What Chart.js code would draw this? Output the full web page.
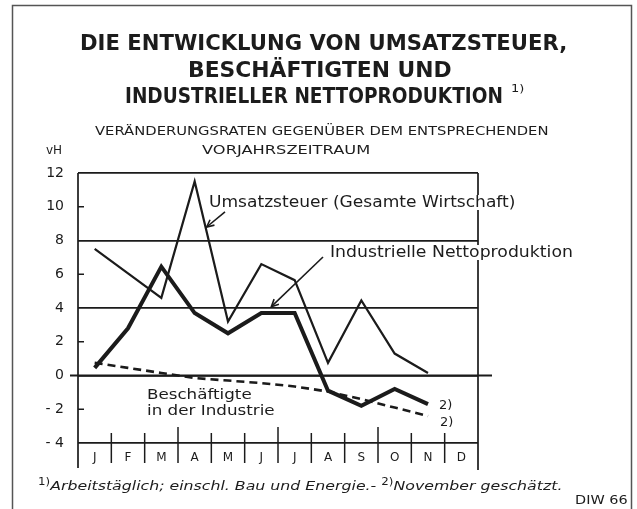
<!DOCTYPE html>
<html><head><meta charset="utf-8">
<script src="https://cdn.jsdelivr.net/npm/chart.js@4"></script>
<style>
html,body{margin:0;padding:0;background:#fff;}
#wrap{position:relative;width:637px;height:509px;overflow:hidden;background:#fff;}
canvas{position:absolute;left:0;top:0;}
.t{position:absolute;white-space:nowrap;line-height:1;color:#1c1c1c;font-family:"DejaVu Sans",sans-serif;transform-origin:0 50%;}
.t sup{font-style:normal;font-size:0.75em;vertical-align:0.55em;line-height:0;}
</style></head><body>
<div id="wrap"><canvas id="c" width="637" height="509"></canvas></div>
<script>
// ---- data ----
const months = ['J','F','M','A','M','J','J','A','S','O','N','D'];
const umsatzsteuer = [7.5, 6.05, 4.6, 11.5, 3.2, 6.6, 5.65, 0.75, 4.45, 1.3, 0.15, null];
const nettoproduktion = [0.45, 2.8, 6.45, 3.7, 2.5, 3.7, 3.7, -0.9, -1.8, -0.8, -1.7, null];
const beschaeftigte = [0.75, 0.45, 0.15, -0.15, -0.3, -0.45, -0.65, -0.95, -1.4, -1.9, -2.4, null];
const yTicks = [12, 10, 8, 6, 4, 2, 0, -2, -4];
const gridValues = [12, 8, 4, 0, -4];

const INK = '#1b1b1b';

const frame = {
  id: 'frame',
  afterDraw(ch) {
    const ctx = ch.ctx, a = ch.chartArea, x = ch.scales.x, y = ch.scales.y;
    ctx.save();
    ctx.lineCap = 'butt';
    // outer frame
    ctx.strokeStyle = '#555'; ctx.lineWidth = 1.5;
    ctx.beginPath(); ctx.moveTo(12.5, 509); ctx.lineTo(12.5, 5.5); ctx.lineTo(631.5, 5.5); ctx.lineTo(631.5, 509); ctx.stroke();
    ctx.strokeStyle = INK; ctx.lineWidth = 1.7;
    // vertical axes
    ctx.beginPath();
    ctx.moveTo(a.left, a.top); ctx.lineTo(a.left, a.bottom + 25);
    ctx.moveTo(a.right, a.top); ctx.lineTo(a.right, a.bottom + 27);
    ctx.stroke();
    // zero line extension
    const y0 = y.getPixelForValue(0);
    ctx.lineWidth = 2;
    ctx.beginPath(); ctx.moveTo(a.left - 8, y0); ctx.lineTo(a.right + 14, y0); ctx.stroke();
    // inner ticks
    ctx.lineWidth = 1.5;
    [10, 6, 2, -2].forEach(v => { const py = y.getPixelForValue(v); ctx.beginPath(); ctx.moveTo(a.left, py); ctx.lineTo(a.left + 6, py); ctx.stroke(); });
    // month separators
    for (let i = 1; i < 12; i++) {
      const px = x.getPixelForValue(i - 0.5);
      const tall = i % 3 === 0;
      ctx.beginPath(); ctx.moveTo(px, a.bottom - (tall ? 16 : 10)); ctx.lineTo(px, a.bottom + 20); ctx.stroke();
    }
    // arrows (value coordinates)
    const arrows = [{from: [3.91, 9.69], to: [3.36, 8.8]}, {from: [6.85, 7.02], to: [5.30, 4.08]}];
    ctx.lineWidth = 1.6;
    arrows.forEach(ar => {
      const x1 = x.getPixelForValue(ar.from[0]), y1 = y.getPixelForValue(ar.from[1]);
      const x2 = x.getPixelForValue(ar.to[0]), y2 = y.getPixelForValue(ar.to[1]);
      ctx.beginPath(); ctx.moveTo(x1, y1); ctx.lineTo(x2, y2); ctx.stroke();
      const ang = Math.atan2(y1 - y2, x1 - x2);
      ctx.beginPath();
      ctx.moveTo(x2 + 8 * Math.cos(ang + 0.45), y2 + 8 * Math.sin(ang + 0.45));
      ctx.lineTo(x2, y2);
      ctx.lineTo(x2 + 8 * Math.cos(ang - 0.45), y2 + 8 * Math.sin(ang - 0.45));
      ctx.stroke();
    });
    ctx.restore();
  }
};

new Chart(document.getElementById('c'), {
  type: 'line',
  data: {
    labels: months,
    datasets: [
      {label: 'Beschäftigte in der Industrie', data: beschaeftigte, borderColor: INK, borderWidth: 2.6, borderDash: [8, 5], pointRadius: 0, tension: 0, fill: false, order: 3},
      {label: 'Umsatzsteuer (Gesamte Wirtschaft)', data: umsatzsteuer, borderColor: INK, borderWidth: 2.2, pointRadius: 0, tension: 0, fill: false, order: 2},
      {label: 'Industrielle Nettoproduktion', data: nettoproduktion, borderColor: INK, borderWidth: 4, pointRadius: 0, tension: 0, fill: false, order: 1}
    ]
  },
  options: {
    responsive: false, animation: false, devicePixelRatio: 1,
    layout: {padding: {left: 0, top: 173, right: 159, bottom: 0}},
    plugins: {legend: {display: false}, tooltip: {enabled: false}},
    scales: {
      x: {
        offset: true,
        grid: {display: false, drawTicks: false}, border: {display: false},
        ticks: {color: INK, font: {family: 'DejaVu Sans', size: 12}, padding: 8, maxRotation: 0, autoSkip: false},
        afterFit(s) { s.height = 66; }
      },
      y: {
        min: -4, max: 12,
        afterBuildTicks(s) { s.ticks = yTicks.map(v => ({value: v})); },
        grid: {color: c => gridValues.includes(c.tick.value) ? INK : 'rgba(0,0,0,0)', lineWidth: 1.7, drawTicks: false},
        border: {display: false},
        ticks: {color: INK, font: {family: 'DejaVu Sans', size: 14}, padding: 14, callback: v => v < 0 ? '- ' + Math.abs(v) : String(v)},
        afterFit(s) { s.width = 78; }
      }
    }
  },
  plugins: [frame]
});

// ---- text ----
function place(txt, left, right, cy, size, o) {
  o = o || {};
  const d = document.createElement('div');
  d.className = 't';
  if (o.html) d.innerHTML = txt; else d.textContent = txt;
  d.style.fontSize = size + 'px';
  if (o.weight) d.style.fontWeight = o.weight;
  if (o.italic) d.style.fontStyle = 'italic';
  if (o.family) d.style.fontFamily = o.family;
  if (o.bg) d.style.background = '#fff';
  document.getElementById('wrap').appendChild(d);
  const w = d.offsetWidth, h = d.offsetHeight;
  d.style.left = left + 'px';
  d.style.top = (cy - h / 2) + 'px';
  d.style.transform = 'scaleX(' + ((right - left) / w) + ')';
}
place('DIE ENTWICKLUNG VON UMSATZSTEUER,', 80, 567, 43, 21, {weight: 'bold'});
place('BESCHÄFTIGTEN UND', 188, 452, 70, 21, {weight: 'bold'});
place('INDUSTRIELLER NETTOPRODUKTION', 125, 503, 96, 21, {weight: 'bold'});
place('1)', 511, 524, 88, 11);
place('VERÄNDERUNGSRATEN GEGENÜBER DEM ENTSPRECHENDEN', 95, 548, 131, 12);
place('VORJAHRSZEITRAUM', 202, 370, 150, 12);
place('vH', 46, 62, 150, 12);
place('Umsatzsteuer (Gesamte Wirtschaft)', 209, 515, 202, 15, {bg: true});
place('Industrielle Nettoproduktion', 330, 573, 252, 15, {bg: true});
place('Beschäftigte', 147, 252, 394, 14);
place('in der Industrie', 147, 275, 410, 14);
place('2)', 439, 452, 404, 13);
place('2)', 440, 453, 421, 13);
place('<sup>1)</sup>Arbeitstäglich; einschl. Bau und Energie.- <sup>2)</sup>November geschätzt.', 38, 562, 485, 13, {italic: true, html: true});
place('DIW 66', 575, 628, 500, 12);
</script>
</body></html>
